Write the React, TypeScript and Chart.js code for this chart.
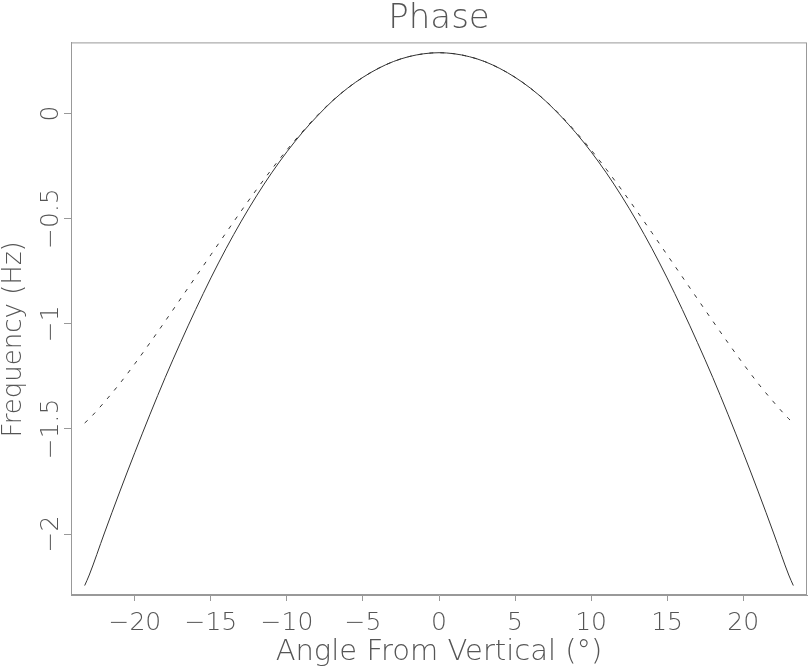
import React, { useEffect, useRef } from 'react';
import { Chart, registerables } from 'chart.js';

Chart.register(...registerables);

// Angle from vertical (degrees)
const angles = [
  -23.3, -23, -22, -21, -20, -19, -18, -17, -16, -15, -14, -13, -12, -11, -10, -9, -8, -7, -6, -5, -4, -3, -2, -1,
  0, 1, 2, 3, 4, 5, 6, 7, 8, 9, 10, 11, 12, 13, 14, 15, 16, 17, 18, 19, 20, 21, 22, 23, 23.3,
];

// Solid curve (Hz)
const solidFreq = [
  -2.245, -2.195, -1.995, -1.8, -1.612, -1.43, -1.255, -1.09, -0.932, -0.782, -0.642, -0.512, -0.392, -0.282, -0.182,
  -0.092, -0.012, 0.06, 0.121, 0.172, 0.214, 0.247, 0.27, 0.284,
  0.289,
  0.284, 0.27, 0.247, 0.214, 0.172, 0.121, 0.06, -0.012, -0.092, -0.182, -0.282, -0.392, -0.512, -0.642, -0.782,
  -0.932, -1.09, -1.255, -1.43, -1.612, -1.8, -1.995, -2.195, -2.245,
];

// Dashed curve (Hz)
const dashedFreq = [
  -1.472, -1.452, -1.372, -1.285, -1.19, -1.09, -0.987, -0.882, -0.777, -0.672, -0.567, -0.463, -0.362, -0.265, -0.173,
  -0.088, -0.009, 0.061, 0.121, 0.172, 0.214, 0.247, 0.27, 0.284,
  0.289,
  0.284, 0.27, 0.247, 0.214, 0.172, 0.121, 0.061, -0.009, -0.088, -0.173, -0.265, -0.362, -0.463, -0.567, -0.672,
  -0.777, -0.882, -0.987, -1.09, -1.19, -1.285, -1.372, -1.452, -1.472,
];

const titleText = 'Phase';
const xTitle = 'Angle From Vertical (°)';
const yTitle = 'Frequency (Hz)     ';

const FONT = "'DejaVu Sans', sans-serif";
const TEXT = '#555';
const AXIS = '#999';

export default function App() {
  const ref = useRef<HTMLCanvasElement | null>(null);

  useEffect(() => {
    document.body.style.margin = '0';
    const canvas = ref.current;
    if (!canvas) return;

    const framePlugin = {
      id: 'frame',
      afterDraw(chart: any) {
        const { ctx, chartArea } = chart;
        ctx.save();
        ctx.strokeStyle = AXIS;
        ctx.lineWidth = 1;
        ctx.strokeRect(chartArea.left + 0.5, chartArea.top + 0.5, chartArea.right - chartArea.left - 1, chartArea.bottom - chartArea.top - 1);
        ctx.restore();
      },
    };

    const fmt = (v: any) => String(v).replace('-', '\u2212');

    const chart = new Chart(canvas, {
      type: 'line',
      data: {
        datasets: [
          {
            data: angles.map((a, i) => ({ x: a, y: dashedFreq[i] })),
            borderColor: '#333',
            borderWidth: 1,
            borderDash: [4, 7],
            pointRadius: 0,
            cubicInterpolationMode: 'monotone',
            fill: false,
          },
          {
            data: angles.map((a, i) => ({ x: a, y: solidFreq[i] })),
            borderColor: '#333',
            borderWidth: 1,
            pointRadius: 0,
            cubicInterpolationMode: 'monotone',
            fill: false,
          },
        ],
      },
      options: {
        animation: false,
        responsive: false,
        devicePixelRatio: 1,
        layout: { padding: { top: 0, right: 2, bottom: 0, left: 0 } },
        plugins: {
          legend: { display: false },
          tooltip: { enabled: false },
          title: {
            display: true,
            text: titleText,
            fullSize: false,
            color: TEXT,
            font: { family: FONT, size: 34, weight: '200', lineHeight: 1.1 },
            padding: { top: 0, bottom: 5 },
          },
        },
        scales: {
          x: {
            type: 'linear',
            min: -24.2,
            max: 24.2,
            afterFit(scale: any) {
              scale.height = 72;
            },
            border: { display: true, color: AXIS, width: 1 },
            grid: { display: true, drawOnChartArea: false, drawTicks: true, tickLength: 6, color: AXIS, tickColor: AXIS },
            ticks: {
              stepSize: 5,
              includeBounds: false,
              color: TEXT,
              padding: 7,
              maxRotation: 0,
              font: { family: FONT, size: 25, weight: '200' },
              callback: (v: any) => fmt(v),
            },
            title: {
              display: true,
              text: xTitle,
              color: TEXT,
              font: { family: FONT, size: 29, weight: '200', lineHeight: 1.0 },
              padding: { top: 0, bottom: 0 },
            },
          },
          y: {
            type: 'linear',
            min: -2.29,
            max: 0.338,
            afterFit(scale: any) {
              scale.width = 71;
            },
            border: { display: true, color: AXIS, width: 1 },
            grid: { display: true, drawOnChartArea: false, drawTicks: true, tickLength: 7, color: AXIS, tickColor: AXIS },
            ticks: {
              stepSize: 0.5,
              includeBounds: false,
              color: TEXT,
              minRotation: 90,
              maxRotation: 90,
              crossAlign: 'center',
              padding: -18,
              font: { family: FONT, size: 25, weight: '200' },
              callback: (v: any) => fmt(v),
            },
            title: {
              display: true,
              text: yTitle,
              color: TEXT,
              font: { family: FONT, size: 26, weight: '200', lineHeight: 1.1 },
              padding: { top: 0, bottom: 0 },
            },
          },
        },
      } as any,
      plugins: [framePlugin],
    });

    return () => chart.destroy();
  }, []);

  return (
    <div style={{ width: 809, height: 667, position: 'relative', background: '#fff' }}>
      <canvas ref={ref} width={809} height={667} style={{ display: 'block' }} />
    </div>
  );
}
